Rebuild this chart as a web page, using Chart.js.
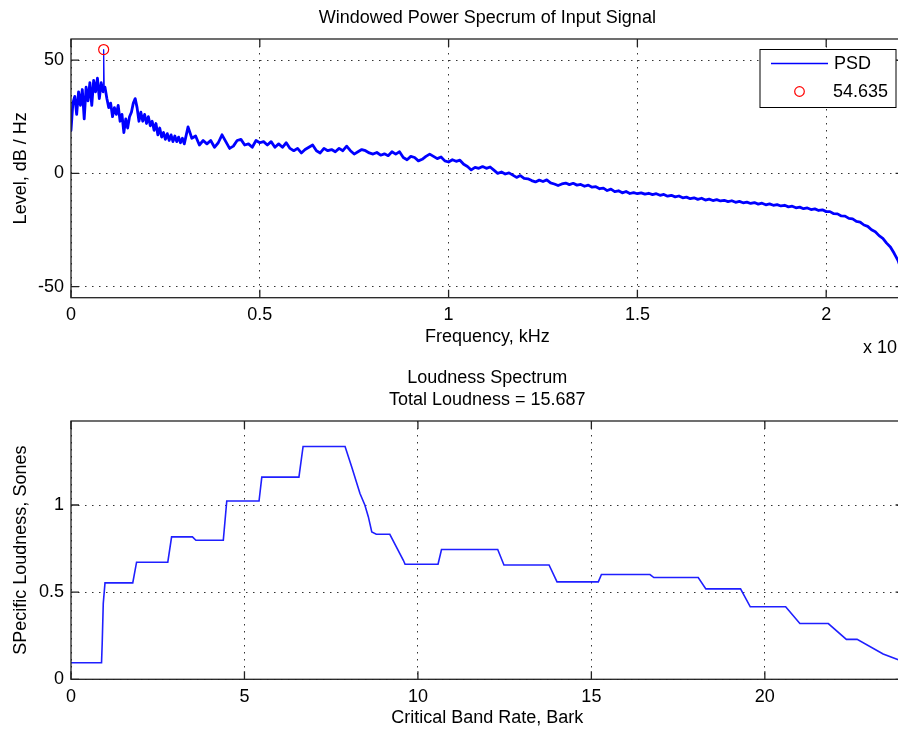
<!DOCTYPE html>
<html><head><meta charset="utf-8">
<script src="https://cdn.jsdelivr.net/npm/chart.js@4/dist/chart.umd.min.js"></script>
<style>
html,body{margin:0;padding:0;background:#fff;overflow:hidden;width:898px;height:731px;position:relative;}
#c1{position:absolute;left:0;top:0;}
#c2{position:absolute;left:0;top:360px;}
</style></head><body>
<canvas id="c1" width="910" height="365"></canvas>
<canvas id="c2" width="910" height="371"></canvas>
<script>
// ---------- Data: PSD (frequency in units of 10^4 Hz, level in dB/Hz) ----------
const psdFreq = [
 0,0.005,0.01,0.015,0.02,0.025,0.03,0.035,0.04,0.045,0.05,0.055,0.06,0.065,0.07,0.075,0.08,0.085,0.0865,0.088,0.09,0.095,
 0.1,0.105,0.11,0.115,0.12,0.125,0.13,0.135,0.14,0.145,0.15,0.155,0.16,0.165,0.17,0.175,0.18,0.185,0.19,0.195,
 0.2,0.205,0.21,0.215,0.22,0.225,0.23,0.235,0.24,0.245,0.25,0.255,0.26,0.265,0.27,0.275,0.28,0.285,0.29,0.295,0.3,
 0.31,0.32,0.33,0.34,0.35,0.36,0.37,0.38,0.39,0.4,0.41,0.42,0.43,0.44,0.45,0.46,0.47,0.48,0.49,0.5,
 0.51,0.52,0.53,0.54,0.55,0.56,0.57,0.58,0.59,0.6,0.61,0.62,0.63,0.64,0.65,0.66,0.67,0.68,0.69,0.7,
 0.71,0.72,0.73,0.74,0.75,0.76,0.77,0.78,0.79,0.8,0.81,0.82,0.83,0.84,0.85,0.86,0.87,0.88,0.89,0.9,
 0.91,0.92,0.93,0.94,0.95,0.96,0.97,0.98,0.99,1.0,1.01,1.02,1.03,1.04,1.05,1.06,1.07,1.08,1.09,1.1,
 1.11,1.12,1.13,1.14,1.15,1.16,1.17,1.18,1.19,1.2,1.21,1.22,1.23,1.24,1.25,1.26,1.27,1.28,1.29,1.3,
 1.31,1.32,1.33,1.34,1.35,1.36,1.37,1.38,1.39,1.4,1.41,1.42,1.43,1.44,1.45,1.46,1.47,1.48,1.49,1.5,
 1.51,1.52,1.53,1.54,1.55,1.56,1.57,1.58,1.59,1.6,1.61,1.62,1.63,1.64,1.65,1.66,1.67,1.68,1.69,1.7,
 1.71,1.72,1.73,1.74,1.75,1.76,1.77,1.78,1.79,1.8,1.81,1.82,1.83,1.84,1.85,1.86,1.87,1.88,1.89,1.9,
 1.91,1.92,1.93,1.94,1.95,1.96,1.97,1.98,1.99,2.0,2.01,2.02,2.03,2.04,2.05,2.06,2.07,2.08,2.09,2.1,
 2.11,2.12,2.13,2.14,2.15,2.16,2.17,2.18,2.19,2.2,2.205
];
const psdLevel = [
 19,31,34,26,36,30,37,24,38,32,40,30,41,36,42,33,40,36,54.635,37,38,33,
 29,31,25,29,26,30,23,26,18,24,20,25,27,31,33,29,23,27,23,26,
 22,25,21,23,19,22,17,20,16,18,15,17.5,14.5,17,14,16.5,14,16,13.5,15.5,13,
 20.5,15.5,16.5,12.5,14.5,13,14.5,11.5,13.5,17,14,11,12,14.5,15,12.5,13,11.5,14.5,13.5,
 14,12.5,14,11.5,13,11.5,13.5,11,10,11,9,10.5,11.5,12.5,10,9,11,10,10.5,9.5,
 11,10,12,10,8.5,9.5,10.5,10,9,8.5,9.2,8,8.6,7.8,9.5,8.5,9.5,7,6,7.5,
 7,5.5,6.2,7.5,8.5,7.5,6.5,7.2,5.5,5,6,5.3,5.8,4,3,1.5,2.6,2.2,3,2.2,
 2.8,1.4,0,0.6,-0.3,0.2,-0.8,-1.8,-1,-2.2,-2.4,-3.2,-3.8,-3,-3.6,-2.9,-4.2,-4.7,-5.4,-4.7,
 -4.3,-5,-4.4,-5.2,-4.9,-5.7,-5.2,-6.1,-5.9,-6.8,-6.5,-7.6,-7,-8.1,-7.7,-8.6,-8,-8.9,-8.5,-9,
 -8.6,-9.2,-8.8,-9.4,-9,-9.7,-9.3,-10.1,-9.7,-10.4,-10,-10.8,-10.5,-11.2,-10.8,-11.5,-11,-11.8,-11.4,-12,
 -11.6,-12.2,-11.9,-12.5,-12.1,-12.8,-12.4,-13,-12.7,-13.3,-12.9,-13.6,-13.2,-13.9,-13.5,-14.1,-13.8,-14.4,-14.1,-14.8,
 -14.5,-15.2,-14.9,-15.6,-15.3,-16,-15.7,-16.4,-16.1,-16.9,-16.9,-17.8,-17.9,-18.8,-18.9,-19.9,-20.1,-21.2,-21.5,-22.8,
 -23.4,-24.9,-25.8,-27.5,-28.7,-30.8,-32.5,-35.3,-38.4,-43,-47
];
const peakFreq = [0.0865];
const peakLevel = [54.635];
const psdXTicks = [0, 0.5, 1, 1.5, 2];
const psdYTicks = [-50, 0, 50];

// ---------- Data: Loudness spectrum (Bark, Sones) ----------
const barkRate = [0,0.88,0.9,0.93,0.98,1.78,1.89,2.79,2.9,3.5,3.6,4.39,4.49,5.42,5.5,6.57,6.69,7.9,8.09,8.33,8.47,8.57,8.67,8.8,9.19,9.58,9.63,10.58,10.68,12.3,12.48,13.78,14.01,15.2,15.29,16.69,16.8,18.08,18.3,19.3,19.58,20.6,21.01,21.83,22.35,22.66,23.41,24];
const specLoud = [0.095,0.095,0.21,0.435,0.553,0.553,0.672,0.672,0.817,0.817,0.798,0.798,1.023,1.023,1.16,1.16,1.336,1.336,1.219,1.066,1.0,0.933,0.846,0.832,0.832,0.683,0.66,0.66,0.745,0.745,0.656,0.656,0.559,0.559,0.601,0.601,0.584,0.584,0.519,0.519,0.416,0.416,0.32,0.32,0.229,0.229,0.145,0.1];
const loudXTicks = [0, 5, 10, 15, 20];
const loudYTicks = [0, 0.5, 1];

const FONT = '"Liberation Sans", Arial, Helvetica, sans-serif';
Chart.defaults.font.family = FONT;
Chart.defaults.font.size = 18;
Chart.defaults.color = '#000';

const framePlugin = {
  id: 'frame',
  afterDatasetsDraw(chart) {
    const {ctx, chartArea: a, scales} = chart;
    ctx.save();
    ctx.strokeStyle = '#222';
    ctx.lineWidth = 1.3;
    ctx.strokeRect(a.left, a.top, a.right - a.left, a.bottom - a.top);
    const tl = 8;
    ctx.beginPath();
    scales.x.ticks.forEach(t => {
      const px = scales.x.getPixelForValue(t.value);
      ctx.moveTo(px, a.bottom); ctx.lineTo(px, a.bottom - tl);
      ctx.moveTo(px, a.top); ctx.lineTo(px, a.top + tl);
    });
    scales.y.ticks.forEach(t => {
      const py = scales.y.getPixelForValue(t.value);
      ctx.moveTo(a.left, py); ctx.lineTo(a.left + tl, py);
      ctx.moveTo(a.right, py); ctx.lineTo(a.right - tl, py);
    });
    ctx.stroke();
    ctx.restore();
  }
};

const psdExtras = {
  id: 'psdExtras',
  afterDraw(chart) {
    const ctx = chart.ctx;
    const ds = chart.data.datasets;
    ctx.save();
    // legend box
    const L = 760, T = 49.5, R = 896, B = 107.5;
    ctx.fillStyle = '#fff';
    ctx.fillRect(L, T, R - L, B - T);
    ctx.strokeStyle = '#000';
    ctx.lineWidth = 1;
    ctx.strokeRect(L, T, R - L, B - T);
    // line sample
    ctx.strokeStyle = '#0000ff';
    ctx.lineWidth = 1.5;
    ctx.beginPath(); ctx.moveTo(771, 63.5); ctx.lineTo(828, 63.5); ctx.stroke();
    // marker sample
    ctx.strokeStyle = '#ff0000';
    ctx.lineWidth = 1.2;
    ctx.beginPath(); ctx.arc(799.5, 91.5, 4.8, 0, Math.PI * 2); ctx.stroke();
    ctx.fillStyle = '#000';
    ctx.font = '18px ' + FONT;
    ctx.textBaseline = 'middle';
    ctx.textAlign = 'left';
    ctx.fillText(ds[0].label, 834, 64);
    ctx.fillText(ds[1].label, 833, 92);
    // exponent label
    ctx.fillText('x 10', 863, 348);
    const w = ctx.measureText('x 10').width;
    ctx.font = '13px ' + FONT;
    ctx.fillText('4', 863 + w + 1, 340);
    ctx.restore();
  }
};

function gridOpts() {
  return { drawTicks: false, color: '#333', lineWidth: 1 };
}
function borderOpts() {
  return { display: false, dash: [1.5, 5.5] };
}

const spikeIdx = psdLevel.indexOf(peakLevel[0]);

new Chart(document.getElementById('c1'), {
  type: 'line',
  data: {
    datasets: [
      {
        label: 'PSD',
        data: psdFreq.map((f, i) => ({x: f, y: psdLevel[i]})),
        borderColor: '#0000ff',
        borderWidth: 2.8,
        borderJoinStyle: 'round',
        borderCapStyle: 'round',
        pointRadius: 0,
        tension: 0,
        segment: {
          borderWidth: c => (c.p1DataIndex === spikeIdx || c.p0DataIndex === spikeIdx) ? 1.2 : undefined
        },
        order: 1
      },
      {
        label: peakLevel[0].toFixed(3),
        data: peakFreq.map((f, i) => ({x: f, y: peakLevel[i]})),
        showLine: false,
        borderColor: '#ff0000',
        backgroundColor: 'rgba(0,0,0,0)',
        pointRadius: 5,
        pointBorderWidth: 1.2,
        order: 0
      }
    ]
  },
  options: {
    responsive: false,
    animation: false,
    devicePixelRatio: 1,
    layout: { padding: { left: 0, right: 6.4, top: 0, bottom: 0 } },
    plugins: {
      legend: { display: false },
      tooltip: { enabled: false },
      title: {
        display: true, text: 'Windowed Power Specrum of Input Signal',
        fullSize: false,
        font: { size: 18, weight: 'normal' },
        padding: { top: 7.5, bottom: 9.9 }
      }
    },
    scales: {
      x: {
        type: 'linear', min: 0, max: 2.205,
        afterBuildTicks: s => { s.ticks = psdXTicks.map(v => ({value: v})); },
        afterFit: s => { s.height = 67.3; },
        ticks: { padding: 6.5, maxRotation: 0, callback: v => String(v) },
        grid: gridOpts(), border: borderOpts(),
        title: { display: true, text: 'Frequency, kHz', padding: { top: 0, bottom: 17.2 } }
      },
      y: {
        type: 'linear', min: -54.9, max: 59.3,
        afterBuildTicks: s => { s.ticks = psdYTicks.map(v => ({value: v})); },
        afterFit: s => { s.width = 71; },
        ticks: { padding: 7, callback: v => String(v) },
        grid: gridOpts(), border: borderOpts(),
        title: { display: true, text: 'Level, dB / Hz', padding: { top: 10.2, bottom: 0 } }
      }
    }
  },
  plugins: [framePlugin, psdExtras]
});

new Chart(document.getElementById('c2'), {
  type: 'line',
  data: {
    datasets: [{
      label: 'Specific Loudness',
      data: barkRate.map((b, i) => ({x: b, y: specLoud[i]})),
      borderColor: '#1f1fff',
      borderWidth: 1.6,
      pointRadius: 0,
      tension: 0
    }]
  },
  options: {
    responsive: false,
    animation: false,
    devicePixelRatio: 1,
    layout: { padding: { left: 0, right: 6.4, top: 0, bottom: 0 } },
    plugins: {
      legend: { display: false },
      tooltip: { enabled: false },
      title: {
        display: true, text: ['Loudness Spectrum', 'Total Loudness = 15.687'],
        fullSize: false,
        font: { size: 18, weight: 'normal', lineHeight: '22px' },
        padding: { top: 7, bottom: 10 }
      }
    },
    scales: {
      x: {
        type: 'linear', min: 0, max: 24,
        afterBuildTicks: s => { s.ticks = loudXTicks.map(v => ({value: v})); },
        afterFit: s => { s.height = 51.7; },
        ticks: { padding: 6.5, maxRotation: 0, callback: v => String(v) },
        grid: gridOpts(), border: borderOpts(),
        title: { display: true, text: 'Critical Band Rate, Bark', padding: { top: 0, bottom: 2.2 } }
      },
      y: {
        type: 'linear', min: 0, max: 1.482,
        afterBuildTicks: s => { s.ticks = loudYTicks.map(v => ({value: v})); },
        afterFit: s => { s.width = 71; },
        ticks: { padding: 7, callback: v => String(v) },
        grid: gridOpts(), border: borderOpts(),
        title: { display: true, text: 'SPecific Loudness, Sones', padding: { top: 10.2, bottom: 0 } }
      }
    }
  },
  plugins: [framePlugin]
});
</script>
</body></html>
